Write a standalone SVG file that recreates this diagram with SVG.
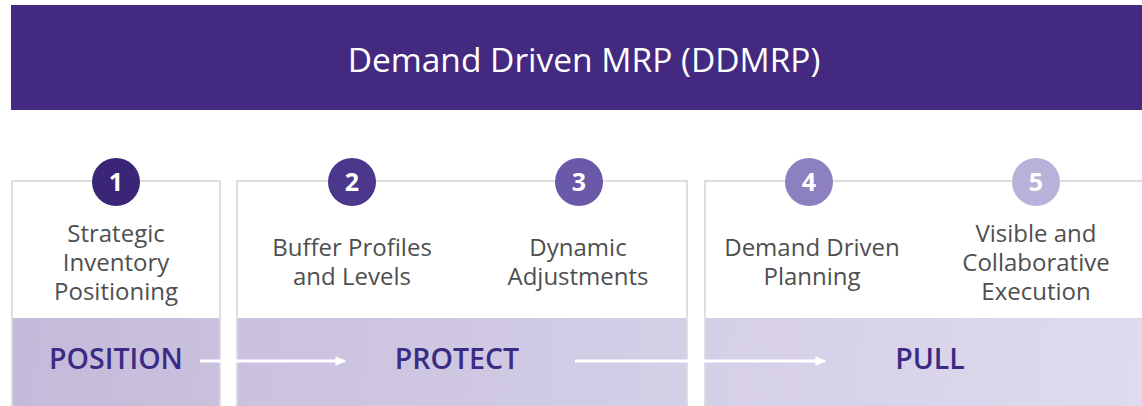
<svg xmlns="http://www.w3.org/2000/svg" width="1142" height="406" viewBox="0 0 1142 406">
<defs>
<linearGradient id="band" gradientUnits="userSpaceOnUse" x1="0" y1="318" x2="1142" y2="406">
<stop offset="0" stop-color="#c3bad9"/>
<stop offset="0.5" stop-color="#d2cbe5"/>
<stop offset="1" stop-color="#dfdaee"/>
</linearGradient>
<marker id="ah" viewBox="0 0 10 10" refX="8" refY="5" markerWidth="4" markerHeight="4" orient="auto" markerUnits="strokeWidth">
<path d="M0,1 L9,5 L0,9 Z" fill="#ffffff"/>
</marker>
</defs>
<style>
.hdr{font-family:"Open Sans","Liberation Sans",sans-serif;font-size:33.5px;fill:#ffffff;text-anchor:middle}
.lbl{font-family:"Open Sans","Liberation Sans",sans-serif;font-size:24px;fill:#4f4f4f;text-anchor:middle}
.num{font-family:"Open Sans","Liberation Sans",sans-serif;font-size:25px;font-weight:700;fill:#ffffff;text-anchor:middle}
.phase{font-family:"Open Sans","Liberation Sans",sans-serif;font-size:28.5px;font-weight:600;fill:#3b2b84;text-anchor:middle}
.panel{fill:#ffffff;stroke:#d4d4d4;stroke-width:1.5}
.band{fill:url(#band)}
.conn{stroke:#ffffff;stroke-width:3;fill:none;marker-end:url(#ah)}
</style>
<rect width="1142" height="406" fill="#ffffff"/>
<g id="header">
<rect x="11" y="5" width="1131" height="105" fill="#432a80"/>
<text class="hdr" x="584" y="72">Demand Driven MRP (DDMRP)</text>
</g>
<g id="panel-position">
<path class="panel" d="M12,406 V181 H220 V406"/>
<rect class="band" x="12.75" y="318" width="206.5" height="88"/>
<text class="phase" x="116" y="369">POSITION</text>
</g>
<g id="panel-protect">
<path class="panel" d="M237,406 V181 H687 V406"/>
<rect class="band" x="237.75" y="318" width="448.5" height="88"/>
<text class="phase" x="457" y="369">PROTECT</text>
</g>
<g id="panel-pull">
<path class="panel" d="M705,406 V181 H1143"/>
<rect class="band" x="705.75" y="318" width="437" height="88"/>
<text class="phase" x="930" y="369">PULL</text>
</g>
<g id="connectors">
<line class="conn" x1="200" y1="361" x2="345" y2="361"/>
<line class="conn" x1="575" y1="361" x2="825" y2="361"/>
</g>
<g id="step1">
<circle cx="116" cy="182" r="24" fill="#3a2577"/>
<text class="num" x="116" y="191">1</text>
<text class="lbl" x="116" y="242">Strategic</text>
<text class="lbl" x="116" y="271">Inventory</text>
<text class="lbl" x="116" y="300">Positioning</text>
</g>
<g id="step2">
<circle cx="352" cy="182" r="24" fill="#4b378c"/>
<text class="num" x="352" y="191">2</text>
<text class="lbl" x="352" y="256">Buffer Profiles</text>
<text class="lbl" x="352" y="285">and Levels</text>
</g>
<g id="step3">
<circle cx="579" cy="182" r="24" fill="#6a58a8"/>
<text class="num" x="579" y="191">3</text>
<text class="lbl" x="578" y="256">Dynamic</text>
<text class="lbl" x="578" y="285">Adjustments</text>
</g>
<g id="step4">
<circle cx="809" cy="182" r="24" fill="#8c80c0"/>
<text class="num" x="809" y="191">4</text>
<text class="lbl" x="812" y="256">Demand Driven</text>
<text class="lbl" x="812" y="285">Planning</text>
</g>
<g id="step5">
<circle cx="1036" cy="182" r="24" fill="#b8b2da"/>
<text class="num" x="1036" y="191">5</text>
<text class="lbl" x="1036" y="242">Visible and</text>
<text class="lbl" x="1036" y="271">Collaborative</text>
<text class="lbl" x="1036" y="300">Execution</text>
</g>
</svg>
